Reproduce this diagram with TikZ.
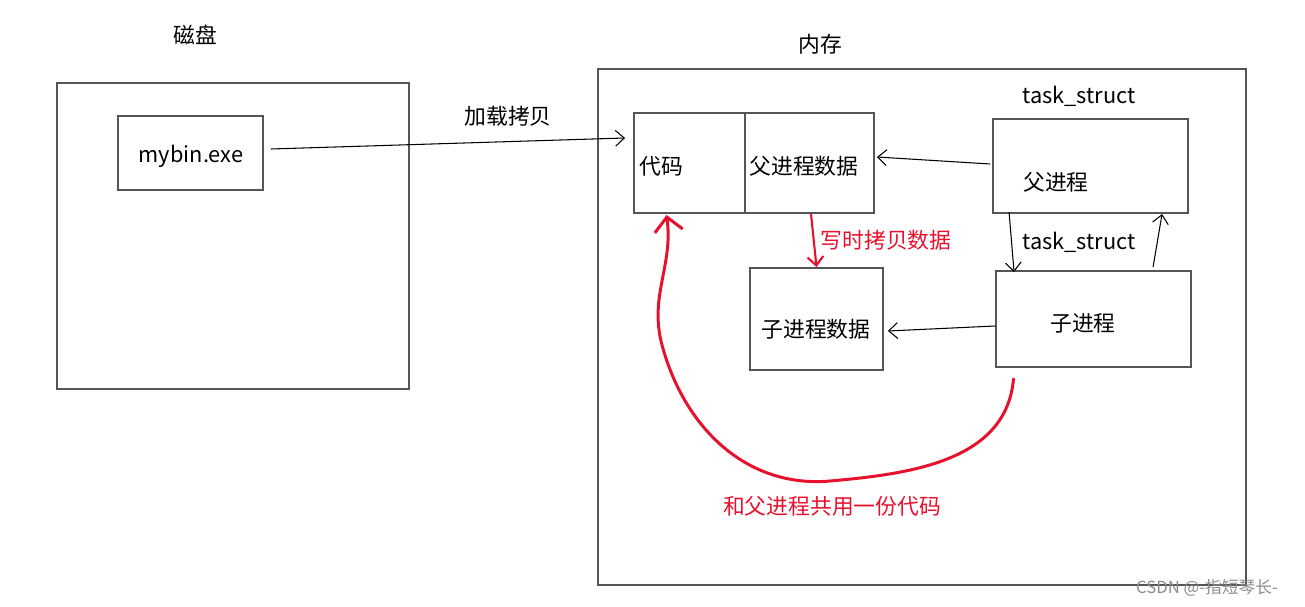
\documentclass[tikz,border=0pt]{standalone}
\usepackage{fontspec}
\setmainfont{Noto Sans CJK SC}
\usetikzlibrary{arrows.meta,calc}
\definecolor{boxgray}{HTML}{555555}
\definecolor{penred}{HTML}{E8112D}
\begin{document}
\begin{tikzpicture}[x=0.02cm,y=-0.02cm,
        font=\fontsize{12.4}{15}\selectfont,
        box/.style={draw=boxgray, line width=1.1pt, inner sep=0pt},
        txt/.style={inner sep=0pt},
        link/.style={-{Straight Barb[length=5pt,width=9pt]}, line width=0.6pt},
        redlink/.style={-{Straight Barb[length=5pt,width=9pt]}, draw=penred, line width=1.2pt},
        pen/.style={-{Straight Barb[length=8pt,width=16pt]}, draw=penred, line width=1.7pt, line cap=round}]
                \useasboundingbox (0,0) rectangle (1305,607);

                \node[txt] (t1) at (195,35) {磁盘};
                \node[box, minimum width=7.04cm, minimum height=6.12cm] (disk) at (233,236) {};
                \node[box, minimum width=2.9cm, minimum height=1.48cm] (mybin) at (190.5,153) {};
                \node[txt] (t2) at (191,156) {mybin.exe};

                \node[txt] (t3) at (820,44) {内存};
                \node[box, minimum width=12.96cm, minimum height=10.32cm] (mem) at (922,327) {};
                \node[txt] (t4) at (508,116) {加载拷贝};

                \node[box, minimum width=2.22cm, minimum height=2cm] (code) at (689.5,163) {};
                \node[txt] (t5) at (661,166) {代码};
                \node[box, minimum width=2.58cm, minimum height=2cm] (pdata) at (809.5,163) {};
                \node[txt] (t6) at (804,166) {父进程数据};

                \node[txt] (t7) at (1079,96) {task\_struct};
                \node[box, minimum width=3.9cm, minimum height=1.88cm] (parent) at (1090.5,166) {};
                \node[txt] (t8) at (1056,182) {父进程};

                \node[txt] (t9) at (1079,242) {task\_struct};
                \node[box, minimum width=3.9cm, minimum height=1.92cm] (child) at (1093.5,319) {};
                \node[txt] (t10) at (1083,323) {子进程};
                \node[box, minimum width=2.66cm, minimum height=2.04cm] (cdata) at (816.5,319) {};
                \node[txt] (t11) at (816,329) {子进程数据};

                \node[txt, text=penred] (t12) at (886,240) {写时拷贝数据};
                \node[txt, text=penred] (t13) at (832,506) {和父进程共用一份代码};
                \node[txt, text=black!45, font=\fontsize{9.5}{11}\selectfont] (t14) at (1207,588) {CSDN @-指短琴长-};

                \draw[link] ($(mybin.east)+(7,-4)$) -- ($(code.west)+(-8,-25)$);
                \draw[link] ($(parent.west)+(-2,-2)$) -- ($(pdata.east)+(2,-6)$);
                \draw[link] ($(parent.south west)+(17,-2)$) -- ($(child.north west)+(19,2)$);
                \draw[link] ($(child.north west)+(158,-3)$) -- ($(parent.south west)+(170,0)$);
                \draw[link] ($(child.west)+(0,7)$) -- ($(cdata.east)+(4,12)$);

                \draw[redlink] ($(pdata.south)+(1.5,0)$) -- (cdata.north);
                \draw[pen] ($(child.south)+(-80,11)$) to[out=-95,in=5] (830,481)
                        to[out=185,in=-75] (662,345) to[out=105,in=-82] ($(code.south)+(-23,1)$);
            \end{tikzpicture}
\end{document}
